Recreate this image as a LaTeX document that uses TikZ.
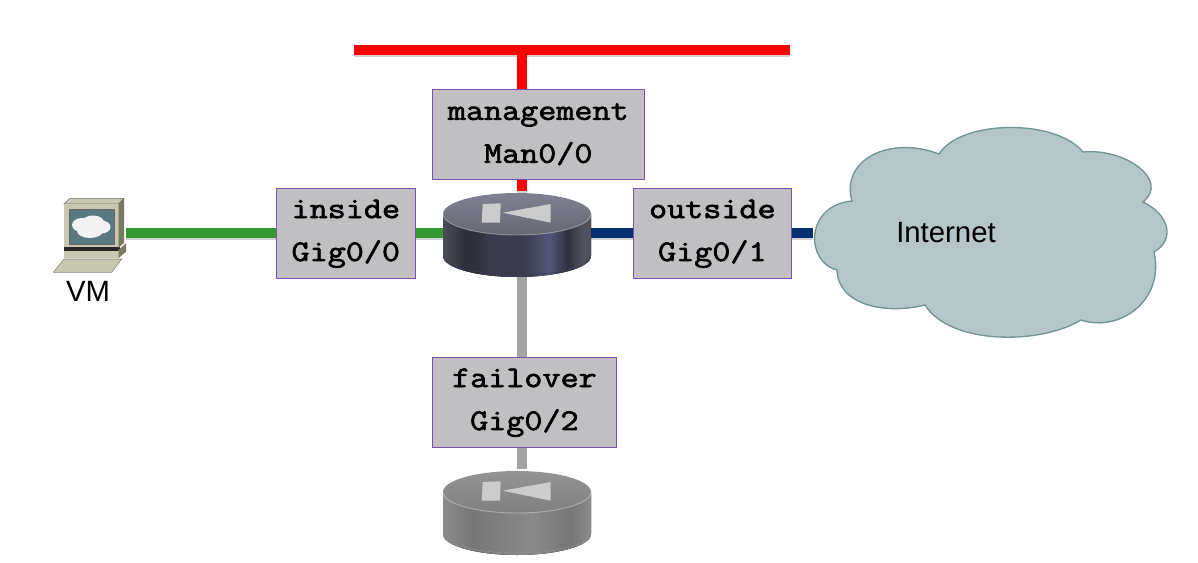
\documentclass[tikz,border=0pt]{standalone}
\usepackage{fontspec}
\setmainfont{Liberation Sans}
\setmonofont[FakeStretch=1.17, FakeBold=2.2]{Latin Modern Mono}
\usetikzlibrary{positioning, backgrounds}

\definecolor{asaA}{HTML}{4B4D59}
\definecolor{asaB}{HTML}{2F303B}
\definecolor{asaC}{HTML}{3A3B4B}
\definecolor{asaD}{HTML}{54567A}
\definecolor{asaE}{HTML}{50515B}
\definecolor{greyA}{HTML}{8C8C8C}
\definecolor{greyB}{HTML}{767676}
\definecolor{greyC}{HTML}{8A8A8A}
\definecolor{cloudfill}{HTML}{B4C6C8}
\definecolor{cloudline}{HTML}{6F9496}
\definecolor{linkgreen}{HTML}{339933}
\definecolor{linkblue}{HTML}{003070}
\definecolor{linkgrey}{HTML}{A3A3A3}
\definecolor{boxfill}{HTML}{C0C0C2}
\definecolor{boxline}{HTML}{7F4FB5}
\definecolor{pcfront}{HTML}{C8C8B0}
\definecolor{pcside}{HTML}{7A7A60}
\definecolor{pcscreen}{HTML}{5A7880}
\pgfdeclarehorizontalshading{asa_dark}{100bp}{color(0bp)=(asaA); color(25bp)=(asaA); color(32bp)=(asaB); color(36bp)=(asaB); color(41bp)=(asaC); color(52bp)=(asaC); color(61bp)=(asaD); color(67bp)=(asaB); color(72bp)=(asaE); color(75bp)=(asaE); color(100bp)=(asaE)}
\pgfdeclarehorizontalshading{asa_grey}{100bp}{color(0bp)=(greyA); color(25bp)=(greyA); color(35bp)=(greyB); color(55bp)=(greyC); color(68bp)=(greyB); color(75bp)=(greyA); color(100bp)=(greyA)}

\begin{document}
\begin{tikzpicture}[x=0.75pt, y=-0.75pt,
          iface/.style={rectangle, draw=boxline, line width=0.6pt, fill=boxfill, inner sep=0pt, minimum height=67.5pt, align=center, font=\fontsize{22.5}{32.2}\selectfont\ttfamily},
          device/.style={rectangle, inner sep=0pt},
          netlabel/.style={inner sep=0pt, font=\fontsize{22}{26}\selectfont},
          link/.style={line width=8pt, preaction={draw=black!18, line width=8pt, transform canvas={yshift=-1.5pt}}},
          pics/router/.style n args={4}{code={
            \fill[#1] (-79,-19) -- (-79,23) arc[start angle=180, end angle=0, x radius=74, y radius=21] -- (69,-19) -- cycle;
            \draw[#2, line width=0.5pt] (-78,23) arc[start angle=180, end angle=0, x radius=73, y radius=19];
            \shade[top color=#3, bottom color=#4] (-5,-19) ellipse[x radius=74, y radius=21];
            \draw[white, opacity=0.35, line width=0.7pt] (-79,-19) arc[start angle=180, end angle=0, x radius=74, y radius=21];
            \fill[black!20] (-39.3,-29) -- (-21.3,-29.7) -- (-22,-10.3) -- (-40.3,-10.3) -- cycle;
            \fill[black!20] (28.7,-29) -- (-19.3,-20.3) -- (28.7,-10.3) -- cycle;
          }}]

        \useasboundingbox (0,0) rectangle (1198,563);

        \node [device, minimum width=103.5pt, minimum height=62.25pt] (asa) at (522,233) {};
        \node [device, minimum width=103.5pt, minimum height=62.25pt] (asa_standby) at (522,511) {};
        \node [device, minimum width=54pt, minimum height=55pt] (vm) at (90,233) {};
        \node [device, minimum width=265.5pt, minimum height=157.5pt] (cloud) at (990,233) {};
        \coordinate (bus_left) at (354,50);
        \coordinate (bus_right) at (790,50);
        \coordinate (bus_tap) at (522,50);

        \node [iface, minimum width=104.6pt, left=27.6pt of asa, yshift=-0.6pt] (inside) {inside\\Gig0/0};
        \node [iface, minimum width=118pt, right=31.5pt of asa, yshift=-0.6pt] (outside) {outside\\Gig0/1};
        \node [iface, minimum width=159.4pt, above=8.7pt of asa, xshift=12.2pt] (management) {management\\Man0/0};
        \node [iface, minimum width=138.4pt, below=61.9pt of asa, xshift=1.8pt] (failover) {failover\\Gig0/2};

        \begin{pgfonlayer}{background}
          \draw [link, red] (bus_left) -- (bus_right);
          \draw [link, red] (bus_tap) -- (asa);
          \draw [link, linkgreen] (vm) -- (asa);
          \draw [link, linkblue] (asa) -- (cloud);
          \draw [line width=8pt, linkgrey] (asa) -- (asa_standby);
        \end{pgfonlayer}

        % routers
        \pic at (asa) {router={shading=asa_dark}{black!30!asaD}{asaA!60!white!70!asaD}{asaA!85!white}};
        \pic at (asa_standby) {router={shading=asa_grey}{black!45}{black!42}{black!50}};

        % cloud outline
        \draw [fill=cloudfill, draw=cloudline, line width=1pt]
          (939,154) .. controls (960,120) and (1055,118) .. (1083,152)
          .. controls (1125,148) and (1170,180) .. (1143,202)
          .. controls (1170,215) and (1175,240) .. (1154,252)
          .. controls (1165,300) and (1120,333) .. (1081,320)
          .. controls (1040,345) and (950,345) .. (925,305)
          .. controls (885,315) and (838,305) .. (837,270)
          .. controls (805,262) and (805,205) .. (852,201)
          .. controls (840,160) and (890,135) .. (939,154) -- cycle;
        \node [netlabel] (internet) at (946,233) {Internet};

        % workstation
        \fill [black!85] (64,247) rectangle (120,251);
        \draw [fill=pcfront, draw=black!55, line width=0.4pt] (64,204) -- (70,198.3) -- (124,198.3) -- (118.3,204) -- cycle;
        \fill [pcside] (118.3,204) -- (124,198.3) -- (124,243) -- (118.3,248) -- cycle;
        \fill [pcside] (118.3,250) -- (126,243.3) -- (126,251.7) -- (118.3,258.3) -- cycle;
        \fill [pcfront] (64,251) rectangle (118.3,258.3);
        \fill [pcfront] (64,204) rectangle (118.3,247);
        \filldraw [fill=pcscreen, draw=black!60, line width=0.4pt] (69,209.3) rectangle (114,244.3);
        \fill [black!5] (82,225) ellipse[x radius=10, y radius=7] (93,222) ellipse[x radius=11, y radius=6.5] (101,227) ellipse[x radius=9.5, y radius=6.5] (90,231) ellipse[x radius=13, y radius=7];
        \draw [fill=pcfront, draw=black!50, line width=0.4pt] (53.3,272.3) -- (64,259) -- (121.7,259) -- (111.7,272.3) -- cycle;
        \node [netlabel, below=8pt of vm, xshift=-1.5pt] (vm_label) {VM};
\end{tikzpicture}
\end{document}
